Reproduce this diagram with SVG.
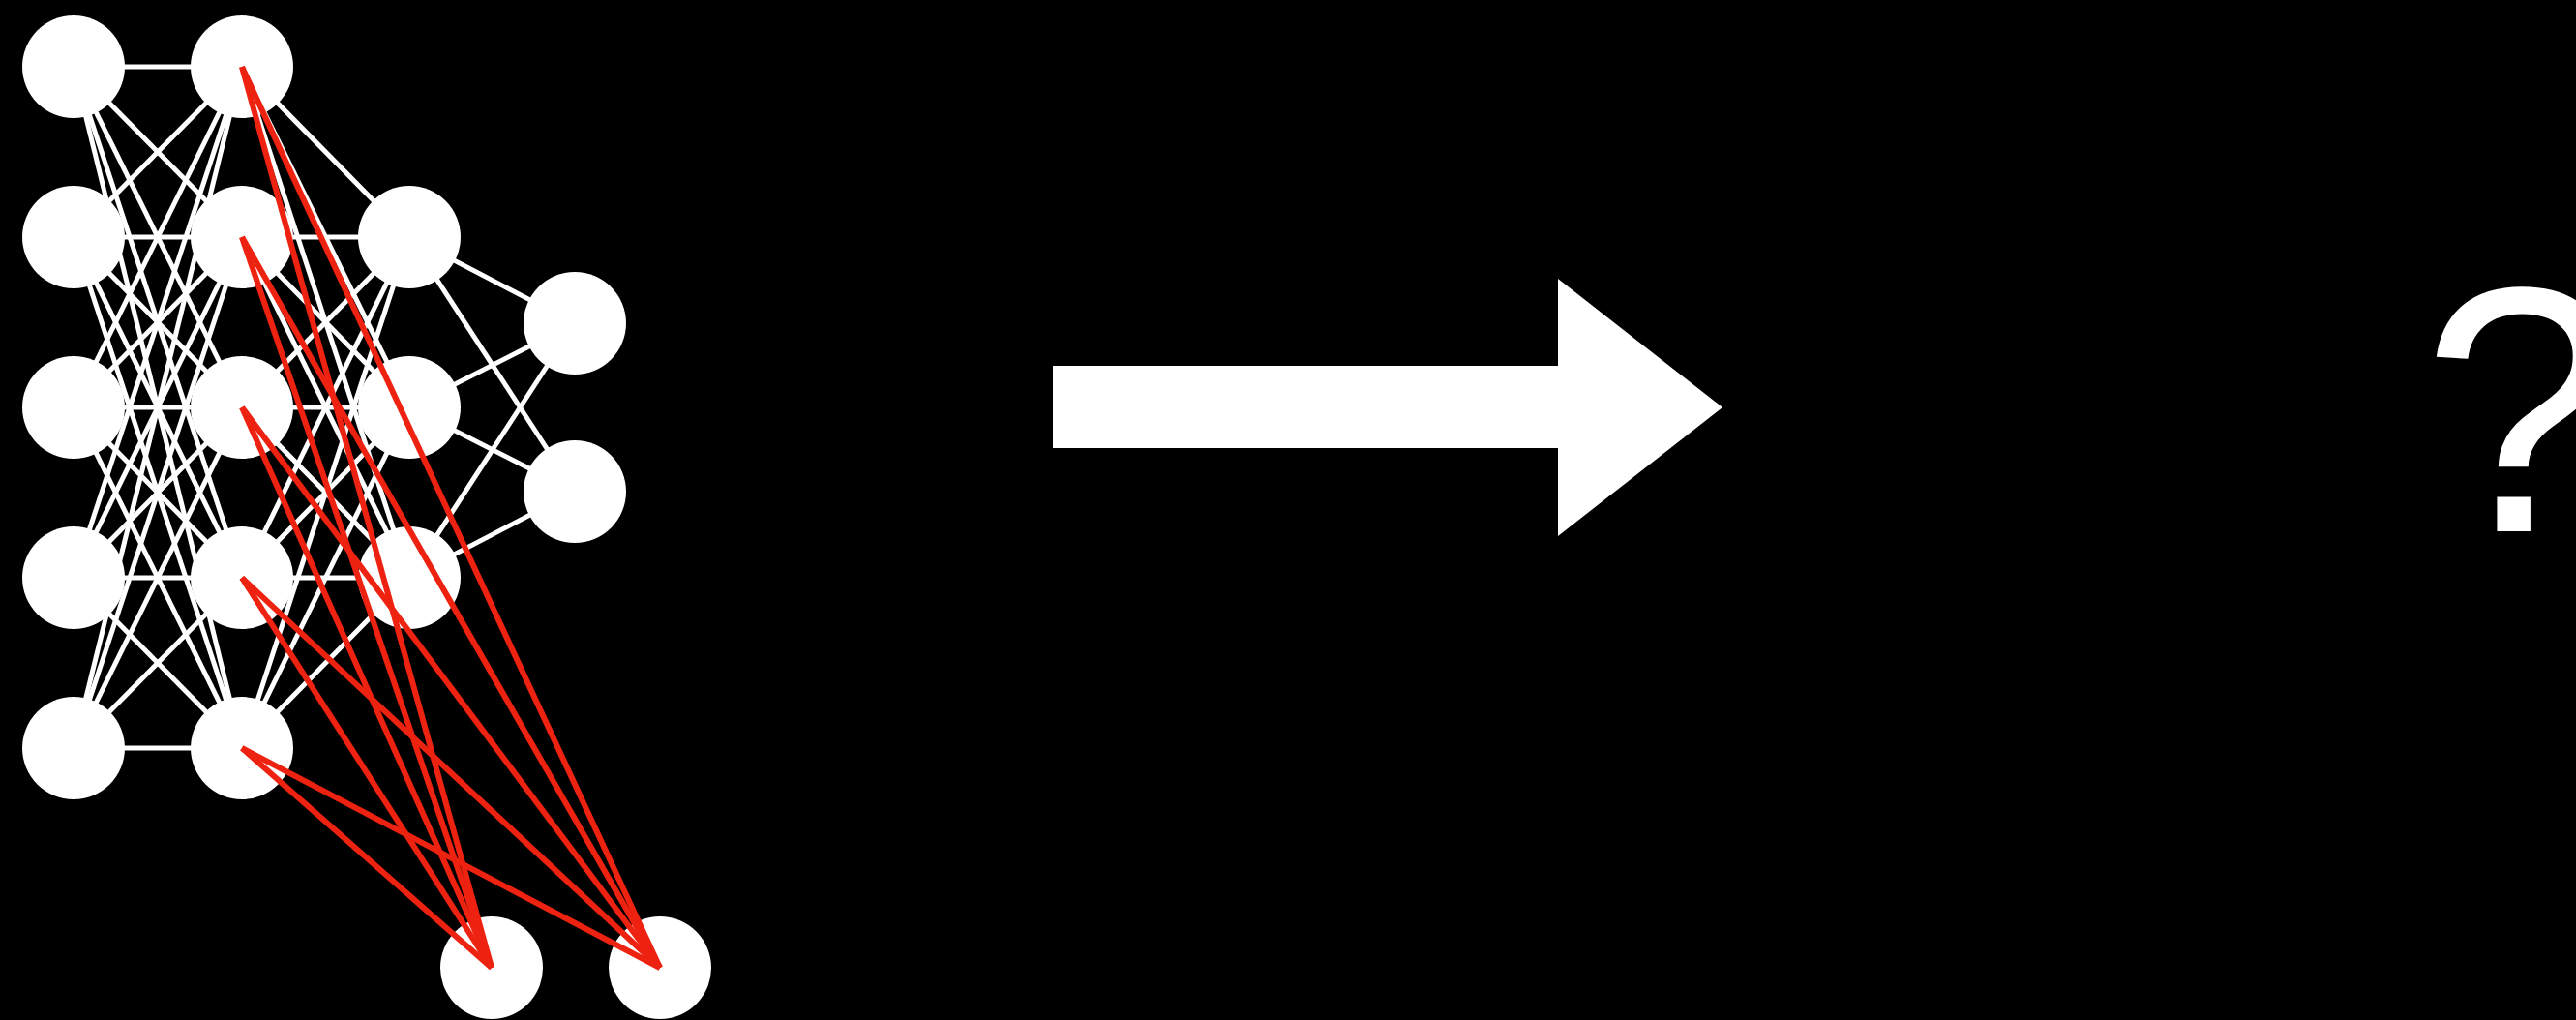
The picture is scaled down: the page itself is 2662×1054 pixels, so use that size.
<svg xmlns="http://www.w3.org/2000/svg" width="2662" height="1054" viewBox="0 0 2662 1054">
<style>
.w{stroke:#ffffff;stroke-width:5;fill:none}
.r{stroke:#ee2211;stroke-width:6;fill:none}
.n{fill:#ffffff}
.q{font-family:"Liberation Sans",Arial,sans-serif;font-size:362px;fill:#ffffff}
</style>
<rect x="0" y="0" width="2662" height="1054" fill="#000000"/>
<g id="connectors">
<g id="white-edges">
<line class="w" x1="76" y1="69" x2="250" y2="69"/><line class="w" x1="76" y1="69" x2="250" y2="245"/><line class="w" x1="76" y1="69" x2="250" y2="421"/><line class="w" x1="76" y1="69" x2="250" y2="597"/><line class="w" x1="76" y1="69" x2="250" y2="773"/>
<line class="w" x1="76" y1="245" x2="250" y2="69"/><line class="w" x1="76" y1="245" x2="250" y2="245"/><line class="w" x1="76" y1="245" x2="250" y2="421"/><line class="w" x1="76" y1="245" x2="250" y2="597"/><line class="w" x1="76" y1="245" x2="250" y2="773"/>
<line class="w" x1="76" y1="421" x2="250" y2="69"/><line class="w" x1="76" y1="421" x2="250" y2="245"/><line class="w" x1="76" y1="421" x2="250" y2="421"/><line class="w" x1="76" y1="421" x2="250" y2="597"/><line class="w" x1="76" y1="421" x2="250" y2="773"/>
<line class="w" x1="76" y1="597" x2="250" y2="69"/><line class="w" x1="76" y1="597" x2="250" y2="245"/><line class="w" x1="76" y1="597" x2="250" y2="421"/><line class="w" x1="76" y1="597" x2="250" y2="597"/><line class="w" x1="76" y1="597" x2="250" y2="773"/>
<line class="w" x1="76" y1="773" x2="250" y2="69"/><line class="w" x1="76" y1="773" x2="250" y2="245"/><line class="w" x1="76" y1="773" x2="250" y2="421"/><line class="w" x1="76" y1="773" x2="250" y2="597"/><line class="w" x1="76" y1="773" x2="250" y2="773"/>
<line class="w" x1="250" y1="69" x2="423" y2="245"/><line class="w" x1="250" y1="69" x2="423" y2="421"/><line class="w" x1="250" y1="69" x2="423" y2="597"/>
<line class="w" x1="250" y1="245" x2="423" y2="245"/><line class="w" x1="250" y1="245" x2="423" y2="421"/><line class="w" x1="250" y1="245" x2="423" y2="597"/>
<line class="w" x1="250" y1="421" x2="423" y2="245"/><line class="w" x1="250" y1="421" x2="423" y2="421"/><line class="w" x1="250" y1="421" x2="423" y2="597"/>
<line class="w" x1="250" y1="597" x2="423" y2="245"/><line class="w" x1="250" y1="597" x2="423" y2="421"/><line class="w" x1="250" y1="597" x2="423" y2="597"/>
<line class="w" x1="250" y1="773" x2="423" y2="245"/><line class="w" x1="250" y1="773" x2="423" y2="421"/><line class="w" x1="250" y1="773" x2="423" y2="597"/>
<line class="w" x1="423" y1="245" x2="594" y2="334"/><line class="w" x1="423" y1="245" x2="594" y2="508"/>
<line class="w" x1="423" y1="421" x2="594" y2="334"/><line class="w" x1="423" y1="421" x2="594" y2="508"/>
<line class="w" x1="423" y1="597" x2="594" y2="334"/><line class="w" x1="423" y1="597" x2="594" y2="508"/>
</g>
</g>
<g id="layer1">
<circle id="n1-1" class="n" cx="76" cy="69" r="53"/>
<circle id="n1-2" class="n" cx="76" cy="245" r="53"/>
<circle id="n1-3" class="n" cx="76" cy="421" r="53"/>
<circle id="n1-4" class="n" cx="76" cy="597" r="53"/>
<circle id="n1-5" class="n" cx="76" cy="773" r="53"/>
</g>
<g id="layer2">
<circle id="n2-1" class="n" cx="250" cy="69" r="53"/>
<circle id="n2-2" class="n" cx="250" cy="245" r="53"/>
<circle id="n2-3" class="n" cx="250" cy="421" r="53"/>
<circle id="n2-4" class="n" cx="250" cy="597" r="53"/>
<circle id="n2-5" class="n" cx="250" cy="773" r="53"/>
</g>
<g id="layer3">
<circle id="n3-1" class="n" cx="423" cy="245" r="53"/>
<circle id="n3-2" class="n" cx="423" cy="421" r="53"/>
<circle id="n3-3" class="n" cx="423" cy="597" r="53"/>
</g>
<g id="layer4">
<circle id="n4-1" class="n" cx="594" cy="334" r="53"/>
<circle id="n4-2" class="n" cx="594" cy="508" r="53"/>
</g>
<g id="new-outputs">
<circle id="o-1" class="n" cx="508" cy="1000" r="53"/>
<circle id="o-2" class="n" cx="682" cy="1000" r="53"/>
</g>
<g id="red-connectors">
<line class="r" x1="250" y1="69" x2="508" y2="1000"/><line class="r" x1="250" y1="69" x2="682" y2="1000"/>
<line class="r" x1="250" y1="245" x2="508" y2="1000"/><line class="r" x1="250" y1="245" x2="682" y2="1000"/>
<line class="r" x1="250" y1="421" x2="508" y2="1000"/><line class="r" x1="250" y1="421" x2="682" y2="1000"/>
<line class="r" x1="250" y1="597" x2="508" y2="1000"/><line class="r" x1="250" y1="597" x2="682" y2="1000"/>
<line class="r" x1="250" y1="773" x2="508" y2="1000"/><line class="r" x1="250" y1="773" x2="682" y2="1000"/>
</g>
<g id="arrow">
<polygon fill="#ffffff" points="1088,378 1610,378 1610,288 1780,421 1610,554 1610,463 1088,463"/>
</g>
<g id="question">
<text class="q" x="2503" y="549">?</text>
</g>
</svg>
